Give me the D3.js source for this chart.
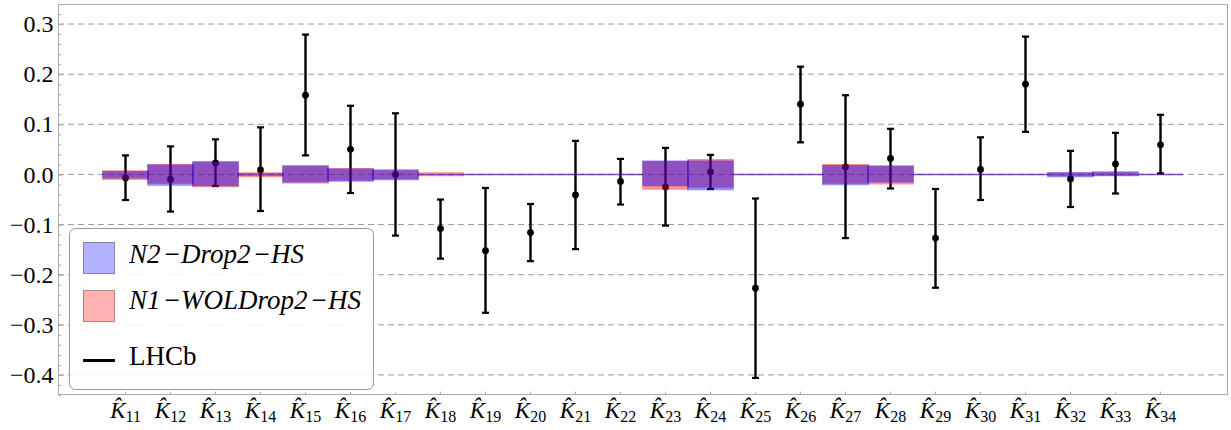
<!DOCTYPE html>
<html>
<head>
<meta charset="utf-8">
<script src="https://cdn.jsdelivr.net/npm/d3@7"></script>
<style>
  body { margin: 0; background: #fff; }
  svg { display: block; }
</style>
</head>
<body>
<div id="chart"></div>
<script>
// Wilson coefficient labels K̂_11 ... K̂_34
const subscripts = ["11", "12", "13", "14", "15", "16", "17", "18", "19", "20", "21", "22",
                    "23", "24", "25", "26", "27", "28", "29", "30", "31", "32", "33", "34"];

// LHCb measurement: central value and error bar ends
const lhcbValue = [-0.007, -0.010, 0.023, 0.009, 0.158, 0.050, 0.000, -0.108, -0.152, -0.116, -0.041, -0.014,
                   -0.025, 0.005, -0.227, 0.140, 0.015, 0.032, -0.127, 0.010, 0.180, -0.009, 0.021, 0.059];
const lhcbLow = [-0.051, -0.074, -0.023, -0.073, 0.038, -0.037, -0.122, -0.168, -0.276, -0.173, -0.149, -0.060,
                 -0.102, -0.029, -0.406, 0.064, -0.127, -0.028, -0.226, -0.051, 0.085, -0.065, -0.038, 0.002];
const lhcbHigh = [0.038, 0.056, 0.070, 0.094, 0.279, 0.137, 0.122, -0.050, -0.027, -0.059, 0.067, 0.031,
                  0.053, 0.039, -0.048, 0.215, 0.158, 0.091, -0.029, 0.074, 0.275, 0.047, 0.083, 0.119];

// N2-Drop2-HS band
const n2Low = [-0.0066, -0.021, -0.022, -0.001, -0.0146, -0.013, -0.010, 0, 0, 0, 0, 0,
               -0.022, -0.030, 0, 0, -0.020, -0.0146, 0, 0, 0, -0.004, -0.002, 0];
const n2High = [0.0054, 0.018, 0.025, 0.001, 0.0173, 0.010, 0.0087, 0, 0, 0, 0, 0,
                0.026, 0.026, 0, 0, 0.017, 0.0167, 0, 0, 0, 0.0034, 0.0047, 0];

// N1-WOLDrop2-HS band
const n1Low = [-0.0093, -0.017, -0.024, -0.004, -0.0166, -0.011, -0.008, -0.002, 0, 0, 0, 0,
               -0.029, -0.025, 0, 0, -0.017, -0.0186, 0, 0, 0, -0.002, -0.001, 0];
const n1High = [0.0067, 0.019, 0.023, 0.003, 0.0147, 0.011, 0.007, 0.003, 0, 0, 0, 0,
                0.025, 0.029, 0, 0, 0.019, 0.0153, 0, 0, 0, 0.002, 0.003, 0];

const yTicks = [-0.4, -0.3, -0.2, -0.1, 0, 0.1, 0.2, 0.3];
const yTickLabels = ["\u22120.4", "\u22120.3", "\u22120.2", "\u22120.1", "0.0", "0.1", "0.2", "0.3"];
const legendLabels = ["N2\u200a\u2212Drop2\u200a\u2212HS", "N1\u200a\u2212WOLDrop2\u200a\u2212HS", "LHCb"];

const width = 1231;
const height = 430;
const plot = { left: 58, right: 1228, top: 4, bottom: 395 };
const serif = "'Liberation Serif', 'Times New Roman', serif";

const svg = d3.select("#chart")
  .append("svg")
  .attr("width", width)
  .attr("height", height);

const x = d3.scaleBand()
  .domain(subscripts)
  .range([plot.left, plot.right])
  .paddingInner(0)
  .paddingOuter(1);

const y = d3.scaleLinear()
  .domain([-0.44, 0.34])
  .range([plot.bottom, plot.top]);

// dashed grid lines
svg.append("g")
  .selectAll("line")
  .data(yTicks)
  .join("line")
  .attr("x1", plot.left)
  .attr("x2", plot.right)
  .attr("y1", d => y(d))
  .attr("y2", d => y(d))
  .attr("stroke", "#9a9a9a")
  .attr("stroke-width", 1)
  .attr("stroke-dasharray", "6,4");

// LHCb error bars (drawn under the translucent bands)
const bars = svg.append("g")
  .selectAll("g")
  .data(subscripts)
  .join("g")
  .attr("transform", d => `translate(${x(d) + x.bandwidth() / 2},0)`);

bars.append("line")
  .attr("y1", (d, i) => y(lhcbLow[i]))
  .attr("y2", (d, i) => y(lhcbHigh[i]))
  .attr("stroke", "#000")
  .attr("stroke-width", 2.4);

bars.selectAll("line.cap")
  .data((d, i) => [lhcbLow[i], lhcbHigh[i]])
  .join("line")
  .attr("class", "cap")
  .attr("x1", -3.5)
  .attr("x2", 3.5)
  .attr("y1", v => y(v))
  .attr("y2", v => y(v))
  .attr("stroke", "#000")
  .attr("stroke-width", 2.2);

bars.append("circle")
  .attr("cy", (d, i) => y(lhcbValue[i]))
  .attr("r", 3.4)
  .attr("fill", "#000");

// model bands as closed paths (so zero-height bands still show their edge)
function drawBand(lows, highs, color) {
  svg.append("g")
    .selectAll("path")
    .data(subscripts)
    .join("path")
    .attr("d", (d, i) => {
      const x0 = x(d), x1 = x(d) + x.bandwidth();
      const y0 = y(lows[i]), y1 = y(highs[i]);
      return `M${x0},${y1}H${x1}V${y0}H${x0}Z`;
    })
    .attr("fill", color)
    .attr("stroke", color)
    .attr("stroke-width", 1.6)
    .attr("opacity", 0.43);
}
drawBand(n1Low, n1High, "rgb(255,0,0)");
drawBand(n2Low, n2High, "rgb(0,0,255)");

// frame
svg.append("rect")
  .attr("x", plot.left + 0.5)
  .attr("y", plot.top + 0.5)
  .attr("width", plot.right - plot.left - 1)
  .attr("height", plot.bottom - plot.top - 1)
  .attr("fill", "none")
  .attr("stroke", "#ababab")
  .attr("stroke-width", 1);

// left axis: minor and major ticks + labels
svg.append("g")
  .attr("transform", `translate(${plot.left + 0.5},0)`)
  .call(d3.axisLeft(y).tickValues(d3.range(-0.44, 0.341, 0.02)).tickSize(-2.5).tickFormat(""))
  .call(g => g.select(".domain").remove())
  .call(g => g.selectAll("line").attr("stroke", "#ababab"));

svg.append("g")
  .attr("transform", `translate(${plot.left + 0.5},0)`)
  .call(d3.axisLeft(y).tickValues(yTicks).tickSize(-4.5).tickPadding(5)
    .tickFormat((d, i) => yTickLabels[i]))
  .call(g => g.select(".domain").remove())
  .call(g => g.selectAll("line").attr("stroke", "#ababab"))
  .call(g => g.selectAll("text")
    .attr("fill", "#000")
    .style("font-family", serif)
    .style("font-size", "24px"));

// bottom axis: small ticks + K-hat labels
const xAxis = svg.append("g")
  .attr("transform", `translate(0,${plot.bottom - 0.5})`)
  .call(d3.axisBottom(x).tickSize(-3).tickPadding(13).tickFormat(""))
  .call(g => g.select(".domain").remove())
  .call(g => g.selectAll("line").attr("stroke", "#ababab"));

xAxis.selectAll(".tick text")
  .attr("y", 23)
  .attr("dy", 0)
  .attr("fill", "#000")
  .style("font-family", serif)
  .each(function(d) {
    const t = d3.select(this);
    t.append("tspan")
      .style("font-style", "italic")
      .style("font-size", "23px")
      .text("K\u0302");
    t.append("tspan")
      .attr("dy", 4)
      .style("font-size", "16px")
      .text(d);
  });

// legend
const legend = svg.append("g");

legend.append("rect")
  .attr("x", 69.5)
  .attr("y", 228.5)
  .attr("width", 304)
  .attr("height", 161)
  .attr("rx", 6)
  .attr("fill", "#fff")
  .attr("fill-opacity", 0.85)
  .attr("stroke", "#999")
  .attr("stroke-width", 1);

legend.append("rect")
  .attr("x", 83.5).attr("y", 242.5)
  .attr("width", 31).attr("height", 31)
  .attr("fill", "rgb(178,178,255)")
  .attr("stroke", "rgb(130,130,190)");

legend.append("rect")
  .attr("x", 83.5).attr("y", 290.5)
  .attr("width", 31).attr("height", 31)
  .attr("fill", "rgb(255,178,178)")
  .attr("stroke", "rgb(190,130,130)");

legend.append("line")
  .attr("x1", 83).attr("x2", 115)
  .attr("y1", 360.5).attr("y2", 360.5)
  .attr("stroke", "#000")
  .attr("stroke-width", 3);

legend.selectAll("text")
  .data(legendLabels)
  .join("text")
  .attr("x", 129)
  .attr("y", (d, i) => [263, 309, 365][i])
  .style("font-family", serif)
  .style("font-size", "27px")
  .style("font-style", (d, i) => i < 2 ? "italic" : "normal")
  .text(d => d);
</script>
</body>
</html>
